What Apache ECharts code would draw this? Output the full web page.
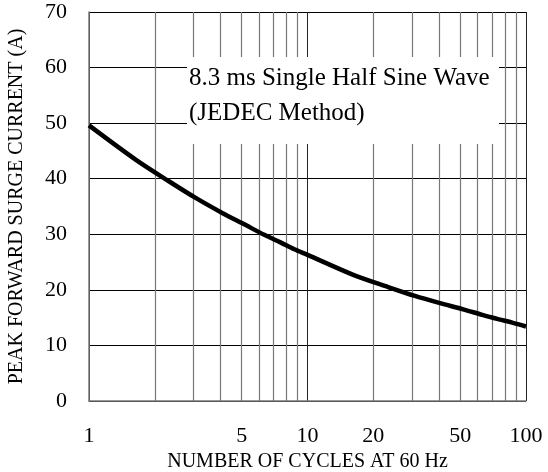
<!DOCTYPE html>
<html>
<head>
<meta charset="utf-8">
<script src="https://cdn.jsdelivr.net/npm/echarts@6/dist/echarts.min.js"></script>
<style>
html,body{margin:0;padding:0;background:#fff;}
#c{width:548px;height:472px;}
</style>
</head>
<body>
<div id="c"></div>
<script>
// Number of cycles at 60 Hz
const cycles = [1, 1.64, 2.33, 3.09, 4.09, 5.19, 6.34, 7.56, 8.7, 10, 16.2, 23.4, 31, 40.4, 51.6, 63.1, 75.2, 86.5, 100];
// Peak forward surge current (A)
const current = [49.6, 43.4, 39.5, 36.5, 33.8, 31.7, 29.9, 28.5, 27.3, 26.3, 22.7, 20.5, 18.9, 17.6, 16.5, 15.5, 14.7, 14.1, 13.4];
const xTickLabels = [1, 5, 10, 20, 50, 100];
const yTicks = [0, 10, 20, 30, 40, 50, 60, 70];
const noteLines = ['8.3 ms Single Half Sine Wave', '(JEDEC Method)'];

const FONT = '"Liberation Serif", "Times New Roman", serif';
const chart = echarts.init(document.getElementById('c'));
chart.setOption({
  backgroundColor: '#fff',
  animation: false,
  grid: { left: 89, right: 22, top: 12, bottom: 71, containLabel: false, outerBoundsMode: 'none' },
  xAxis: {
    type: 'log',
    logBase: 10,
    min: 1,
    max: 100,
    name: 'NUMBER OF CYCLES AT 60 Hz',
    nameLocation: 'middle',
    nameGap: 51,
    nameTextStyle: { fontFamily: FONT, fontSize: 20, color: '#000' },
    axisLine: { show: true, lineStyle: { color: '#777', width: 1.5 } },
    axisTick: { show: false },
    axisLabel: {
      customValues: xTickLabels,
      fontFamily: FONT, fontSize: 22, color: '#000', margin: 24,
      formatter: v => String(v)
    },
    splitLine: { show: true, lineStyle: { color: '#222', width: 1 } },
    minorTick: { show: false, splitNumber: 9 },
    minorSplitLine: { show: true, lineStyle: { color: '#777', width: 1.2 } }
  },
  yAxis: {
    type: 'value',
    min: yTicks[0],
    max: yTicks[yTicks.length - 1],
    interval: 10,
    name: 'PEAK FORWARD SURGE CURRENT (A)',
    nameLocation: 'middle',
    nameGap: 62,
    nameTextStyle: { fontFamily: FONT, fontSize: 20, color: '#000' },
    axisLine: { show: true, lineStyle: { color: '#777', width: 1.5 } },
    axisTick: { show: false },
    axisLabel: { fontFamily: FONT, fontSize: 22, color: '#000', margin: 22 },
    splitLine: { show: true, lineStyle: { color: '#000', width: 1 } }
  },
  graphic: [
    { type: 'rect', z: 100, shape: { x: 187, y: 57, width: 312, height: 87 }, style: { fill: '#fff' } },
    { type: 'text', z: 101, x: 189, y: 61, style: {
        text: noteLines.join('\n'), fontFamily: FONT, fontSize: 25, lineHeight: 35,
        fill: '#000', verticalAlign: 'top', align: 'left' } }
  ],
  series: [{
    type: 'line',
    data: cycles.map((c, i) => [c, current[i]]),
    smooth: 0.3,
    showSymbol: false,
    lineStyle: { color: '#000', width: 4.5 },
    z: 5
  }]
});
</script>
</body>
</html>
